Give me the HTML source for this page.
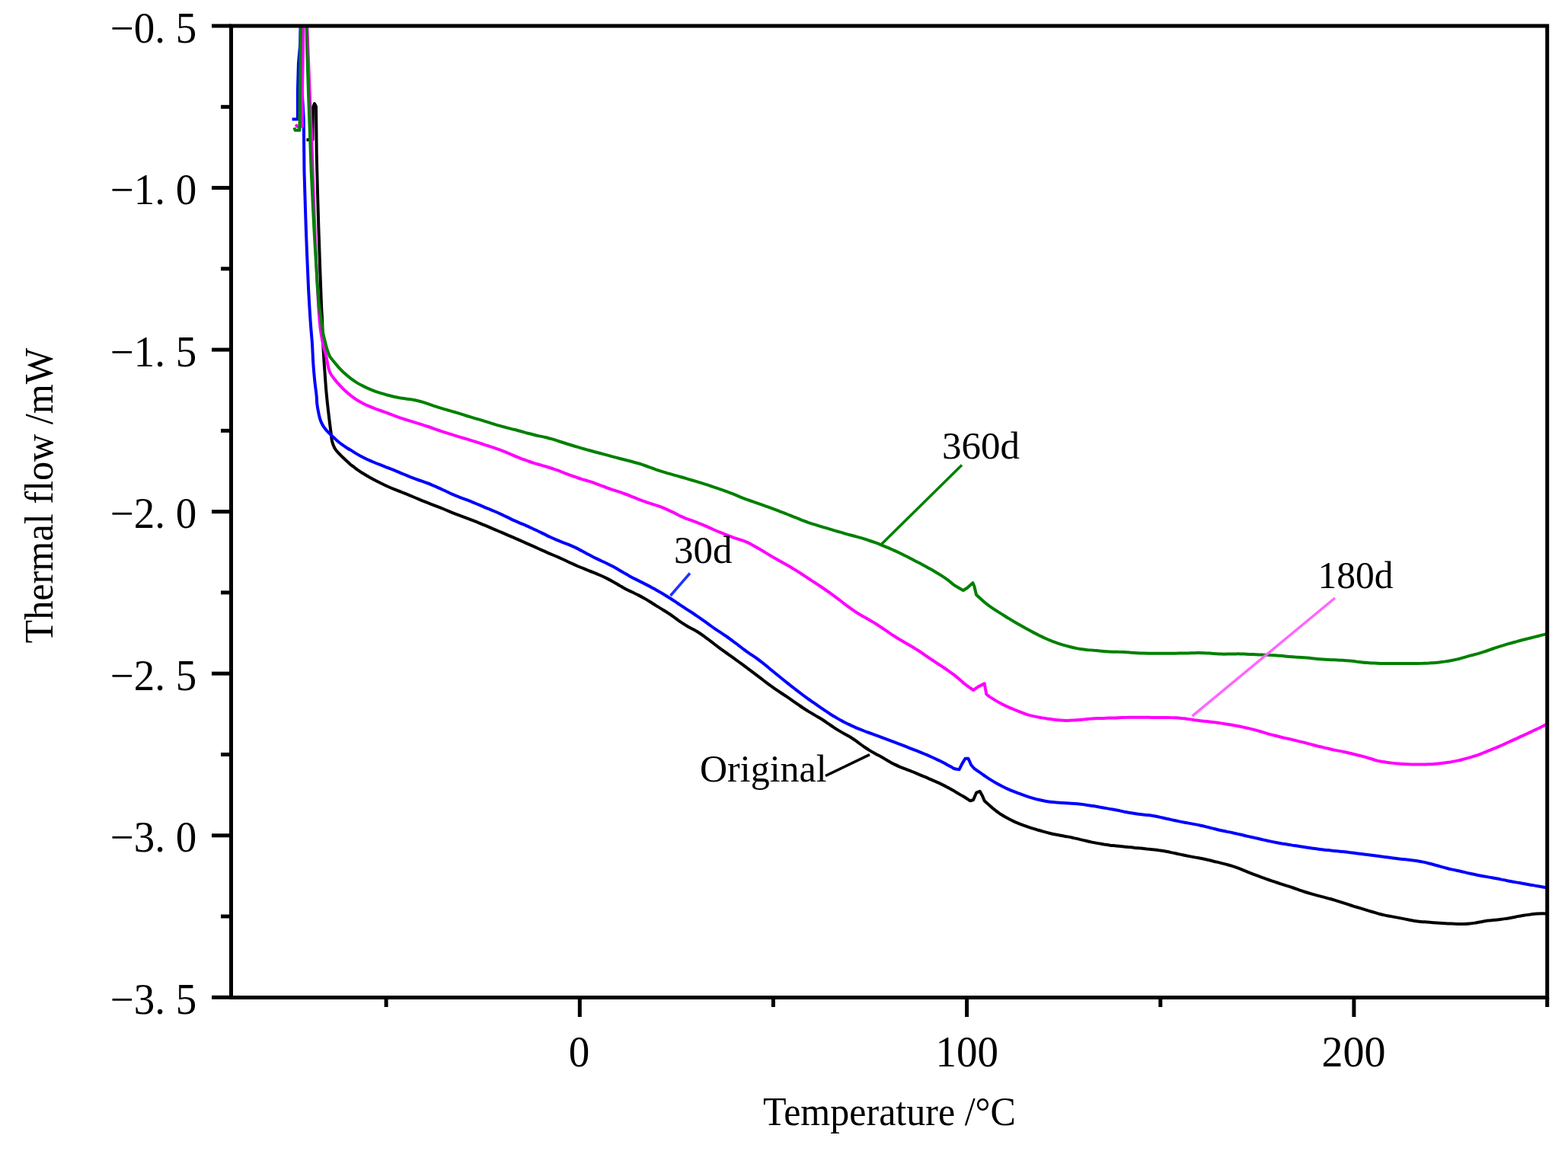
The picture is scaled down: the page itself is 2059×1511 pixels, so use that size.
<!DOCTYPE html>
<html><head><meta charset="utf-8"><title>DSC curves</title>
<style>html,body{margin:0;padding:0;background:#fff;}svg{display:block;}text{font-family:"Liberation Serif","Times New Roman",serif;fill:#000;}</style>
</head><body>
<svg width="2059" height="1511" viewBox="0 0 2059 1511">
<rect width="2059" height="1511" fill="#fff"/>
<defs><clipPath id="pc"><rect x="303.5" y="34.0" width="1728.2" height="1275.5"/></clipPath></defs>
<g clip-path="url(#pc)" fill="none" stroke-width="4" stroke-linejoin="round" stroke-linecap="butt">
<path stroke="#000" d="M402.4,183.5L410.5,183.5L411.0,141.0L413.0,136.0L415.0,140.0L415.7,200.0L416.3,225.0C416.6,237.5 417.7,277.5 418.4,300.0C419.1,322.5 419.9,343.3 420.5,360.0C421.1,376.7 421.6,390.0 422.0,400.0C422.4,410.0 422.8,412.7 423.1,420.0C423.4,427.3 423.6,435.9 423.9,443.8C424.2,451.8 424.6,459.8 425.1,467.7C425.6,475.6 426.1,483.6 426.7,491.5C427.3,499.4 427.9,508.6 428.5,515.0C429.1,521.4 429.5,525.3 430.0,530.0C430.5,534.7 431.0,538.8 431.5,543.2C432.0,547.6 432.6,552.1 433.1,556.5C433.7,560.9 434.3,565.9 434.8,569.7C435.3,573.6 435.3,576.5 436.1,579.6C436.9,582.7 438.0,585.7 439.4,588.2C440.8,590.8 442.7,592.7 444.7,594.9C446.7,597.1 448.5,598.9 451.3,601.5C454.1,604.1 459.5,609.1 461.3,610.7C463.1,612.3 460.6,609.9 462.0,611.0C463.4,612.1 467.3,615.2 470.0,617.1C472.7,619.0 475.3,620.7 478.0,622.3C480.7,624.0 483.3,625.5 486.0,627.0C488.7,628.5 491.3,629.9 494.0,631.3C496.7,632.7 499.3,634.0 502.0,635.3C504.7,636.6 507.3,637.8 510.0,639.0C512.7,640.2 515.3,641.3 518.0,642.4C520.7,643.5 523.3,644.5 526.0,645.5C528.7,646.6 531.3,647.6 534.0,648.7C536.7,649.8 539.3,650.9 542.0,652.0C544.7,653.1 547.3,654.2 550.0,655.4C552.7,656.5 555.3,657.6 558.0,658.7C560.7,659.8 563.3,660.8 566.0,661.8C568.7,662.8 571.3,663.8 574.0,664.8C576.7,665.9 579.3,666.9 582.0,668.0C584.7,669.1 587.3,670.2 590.0,671.4C592.7,672.5 595.3,673.6 598.0,674.7C600.7,675.7 603.3,676.7 606.0,677.7C608.7,678.7 611.3,679.7 614.0,680.7C616.7,681.7 619.3,682.7 622.0,683.7C624.7,684.7 627.3,685.8 630.0,686.9C632.7,688.0 635.3,689.1 638.0,690.2C640.7,691.3 643.3,692.4 646.0,693.6C648.7,694.7 651.3,695.8 654.0,697.0C656.7,698.1 659.3,699.3 662.0,700.4C664.7,701.6 667.3,702.7 670.0,703.8C672.7,705.0 675.3,706.2 678.0,707.3C680.7,708.5 683.3,709.7 686.0,710.8C688.7,712.0 691.3,713.2 694.0,714.4C696.7,715.6 699.3,716.7 702.0,717.9C704.7,719.1 707.3,720.4 710.0,721.6C712.7,722.8 715.3,724.0 718.0,725.1C720.7,726.3 723.3,727.4 726.0,728.5C728.7,729.6 731.3,730.7 734.0,731.9C736.7,733.1 739.3,734.3 742.0,735.5C744.7,736.8 747.3,738.1 750.0,739.3C752.7,740.6 755.3,741.8 758.0,743.0C760.7,744.2 763.3,745.2 766.0,746.2C768.7,747.3 771.3,748.4 774.0,749.5C776.7,750.5 779.3,751.6 782.0,752.7C784.7,753.8 787.3,754.8 790.0,756.0C792.7,757.2 795.3,758.5 798.0,759.9C800.7,761.3 803.3,762.7 806.0,764.2C808.7,765.7 811.3,767.4 814.0,768.9C816.7,770.5 819.3,772.1 822.0,773.5C824.7,774.9 827.3,776.0 830.0,777.3C832.7,778.6 835.3,779.7 838.0,781.1C840.7,782.5 843.3,783.9 846.0,785.4C848.7,787.0 851.3,788.6 854.0,790.3C856.7,792.0 859.3,793.8 862.0,795.4C864.7,797.1 867.3,798.6 870.0,800.2C872.7,801.9 875.3,803.5 878.0,805.3C880.7,807.0 883.3,808.9 886.0,810.8C888.7,812.7 891.3,814.8 894.0,816.6C896.7,818.4 899.3,820.1 902.0,821.7C904.7,823.3 907.3,824.6 910.0,826.1C912.7,827.6 915.3,829.1 918.0,830.8C920.7,832.5 923.3,834.4 926.0,836.3C928.7,838.2 931.3,840.4 934.0,842.4C936.7,844.4 939.3,846.6 942.0,848.5C944.7,850.5 947.3,852.5 950.0,854.4C952.7,856.3 955.3,858.2 958.0,860.1C960.7,862.0 963.3,863.9 966.0,865.8C968.7,867.8 971.3,869.7 974.0,871.7C976.7,873.7 979.3,875.6 982.0,877.6C984.7,879.6 987.3,881.6 990.0,883.6C992.7,885.6 995.3,887.7 998.0,889.7C1000.7,891.7 1003.3,893.8 1006.0,895.8C1008.7,897.8 1011.3,899.7 1014.0,901.6C1016.7,903.5 1019.3,905.4 1022.0,907.2C1024.7,909.0 1027.3,910.8 1030.0,912.5C1032.7,914.3 1035.3,916.0 1038.0,917.8C1040.7,919.6 1043.3,921.6 1046.0,923.5C1048.7,925.3 1051.3,927.2 1054.0,929.0C1056.7,930.8 1059.3,932.5 1062.0,934.1C1064.7,935.8 1067.3,937.3 1070.0,938.9C1072.7,940.5 1075.3,941.9 1078.0,943.5C1080.7,945.2 1083.3,947.0 1086.0,948.8C1088.7,950.6 1091.3,952.6 1094.0,954.3C1096.7,956.1 1099.3,957.8 1102.0,959.4C1104.7,961.0 1107.3,962.5 1110.0,964.0C1112.7,965.5 1115.3,966.8 1118.0,968.5C1120.7,970.1 1123.3,972.2 1126.0,974.1C1128.7,976.0 1131.3,978.0 1134.0,979.9C1136.7,981.7 1139.3,983.5 1142.0,985.1C1144.7,986.8 1147.3,988.2 1150.0,989.7C1152.7,991.2 1155.3,992.5 1158.0,994.0C1160.7,995.5 1163.3,997.2 1166.0,998.7C1168.7,1000.2 1171.3,1001.7 1174.0,1003.1C1176.7,1004.4 1179.3,1005.6 1182.0,1006.8C1184.7,1007.9 1187.3,1008.9 1190.0,1009.9C1192.7,1011.0 1195.3,1011.9 1198.0,1013.0C1200.7,1014.1 1203.3,1015.2 1206.0,1016.3C1208.7,1017.4 1211.3,1018.5 1214.0,1019.7C1216.7,1020.8 1219.3,1022.0 1222.0,1023.2C1224.7,1024.4 1227.3,1025.5 1230.0,1026.7C1232.7,1027.9 1235.3,1029.1 1238.0,1030.4C1240.7,1031.7 1243.3,1033.1 1246.0,1034.5C1248.7,1036.0 1251.3,1037.6 1254.0,1039.1C1256.7,1040.7 1260.0,1042.7 1262.0,1043.9C1264.0,1045.1 1264.2,1045.1 1266.2,1046.3C1268.2,1047.5 1272.8,1050.5 1274.1,1051.3L1278.1,1050.0L1282.1,1040.7L1286.7,1038.8L1290.0,1044.7L1292.7,1051.3C1294.9,1053.2 1302.4,1060.0 1305.9,1062.9C1309.4,1065.8 1311.2,1067.0 1313.9,1068.8C1316.6,1070.5 1319.2,1072.1 1321.9,1073.6C1324.6,1075.1 1327.2,1076.4 1329.9,1077.6C1332.6,1078.9 1335.2,1080.0 1337.9,1081.1C1340.6,1082.2 1343.2,1083.3 1345.9,1084.2C1348.6,1085.2 1351.2,1086.1 1353.9,1086.9C1356.6,1087.8 1359.2,1088.6 1361.9,1089.3C1364.6,1090.1 1367.2,1090.9 1369.9,1091.6C1372.6,1092.3 1375.2,1093.1 1377.9,1093.7C1380.6,1094.4 1383.2,1095.0 1385.9,1095.5C1388.6,1096.0 1391.2,1096.5 1393.9,1097.0C1396.6,1097.5 1399.2,1097.9 1401.9,1098.4C1404.6,1098.9 1407.2,1099.5 1409.9,1100.1C1412.6,1100.6 1415.2,1101.2 1417.9,1101.9C1420.6,1102.5 1423.2,1103.2 1425.9,1103.8C1428.6,1104.4 1431.2,1105.0 1433.9,1105.6C1436.6,1106.1 1439.2,1106.6 1441.9,1107.1C1444.6,1107.6 1447.2,1108.0 1449.9,1108.5C1452.6,1108.9 1455.2,1109.3 1457.9,1109.7C1460.6,1110.0 1463.2,1110.2 1465.9,1110.5C1468.6,1110.8 1471.2,1111.0 1473.9,1111.2C1476.6,1111.5 1479.2,1111.8 1481.9,1112.1C1484.6,1112.3 1487.2,1112.6 1489.9,1112.9C1492.6,1113.1 1495.2,1113.4 1497.9,1113.6C1500.6,1113.9 1503.2,1114.2 1505.9,1114.5C1508.6,1114.7 1511.2,1115.0 1513.9,1115.3C1516.6,1115.6 1519.2,1115.9 1521.9,1116.3C1524.6,1116.6 1527.2,1117.1 1529.9,1117.5C1532.6,1118.0 1535.2,1118.5 1537.9,1119.1C1540.6,1119.6 1543.2,1120.2 1545.9,1120.8C1548.6,1121.4 1551.2,1122.0 1553.9,1122.5C1556.6,1123.1 1559.2,1123.6 1561.9,1124.1C1564.6,1124.6 1567.2,1125.1 1569.9,1125.6C1572.6,1126.1 1575.2,1126.5 1577.9,1127.0C1580.6,1127.6 1583.2,1128.1 1585.9,1128.8C1588.6,1129.4 1591.2,1130.0 1593.9,1130.7C1596.6,1131.3 1599.2,1132.0 1601.9,1132.6C1604.6,1133.3 1607.2,1133.9 1609.9,1134.6C1612.6,1135.4 1615.2,1136.1 1617.9,1136.9C1620.6,1137.7 1623.2,1138.6 1625.9,1139.6C1628.6,1140.6 1631.2,1141.8 1633.9,1142.9C1636.6,1144.0 1639.2,1145.1 1641.9,1146.1C1644.6,1147.2 1647.2,1148.2 1649.9,1149.2C1652.6,1150.2 1655.2,1151.2 1657.9,1152.2C1660.6,1153.1 1663.2,1154.1 1665.9,1155.0C1668.6,1155.9 1671.2,1156.8 1673.9,1157.7C1676.6,1158.6 1679.2,1159.4 1681.9,1160.3C1684.6,1161.2 1687.2,1162.0 1689.9,1162.9C1692.6,1163.7 1695.2,1164.6 1697.9,1165.5C1700.6,1166.4 1703.2,1167.4 1705.9,1168.3C1708.6,1169.2 1711.2,1170.1 1713.9,1171.0C1716.6,1171.9 1719.2,1172.7 1721.9,1173.4C1724.6,1174.2 1727.2,1174.9 1729.9,1175.6C1732.6,1176.3 1735.2,1176.9 1737.9,1177.6C1740.6,1178.3 1743.2,1179.0 1745.9,1179.8C1748.6,1180.5 1751.2,1181.3 1753.9,1182.1C1756.6,1182.9 1759.2,1183.8 1761.9,1184.6C1764.6,1185.5 1767.2,1186.3 1769.9,1187.2C1772.6,1188.1 1775.2,1188.9 1777.9,1189.8C1780.6,1190.6 1783.2,1191.4 1785.9,1192.2C1788.6,1193.0 1791.2,1193.8 1793.9,1194.6C1796.6,1195.4 1799.2,1196.2 1801.9,1197.0C1804.6,1197.8 1807.2,1198.6 1809.9,1199.4C1812.6,1200.1 1815.2,1200.8 1817.9,1201.4C1820.6,1202.0 1823.2,1202.4 1825.9,1202.9C1828.6,1203.4 1831.2,1203.9 1833.9,1204.4C1836.6,1204.9 1839.2,1205.4 1841.9,1205.9C1844.6,1206.5 1847.2,1207.0 1849.9,1207.5C1852.6,1208.0 1855.2,1208.5 1857.9,1208.9C1860.6,1209.3 1863.2,1209.6 1865.9,1209.9C1868.6,1210.2 1871.2,1210.3 1873.9,1210.5C1876.6,1210.8 1879.2,1211.0 1881.9,1211.2C1884.6,1211.4 1887.2,1211.6 1889.9,1211.7C1892.6,1211.9 1895.2,1212.1 1897.9,1212.2C1900.6,1212.4 1903.2,1212.5 1905.9,1212.6C1908.6,1212.7 1911.2,1212.8 1913.9,1212.9C1916.6,1213.0 1919.2,1213.2 1921.9,1213.1C1924.6,1213.1 1927.2,1212.9 1929.9,1212.6C1932.6,1212.3 1935.2,1211.9 1937.9,1211.5C1940.6,1211.1 1943.2,1210.5 1945.9,1210.0C1948.6,1209.5 1951.2,1209.0 1953.9,1208.6C1956.6,1208.3 1959.2,1208.1 1961.9,1207.8C1964.6,1207.5 1967.2,1207.3 1969.9,1207.0C1972.6,1206.7 1975.2,1206.4 1977.9,1205.9C1980.6,1205.5 1983.2,1205.0 1985.9,1204.5C1988.6,1204.0 1991.2,1203.4 1993.9,1202.9C1996.6,1202.4 1999.2,1201.9 2001.9,1201.5C2004.6,1201.1 2007.2,1200.7 2009.9,1200.4C2012.6,1200.1 2015.2,1199.8 2017.9,1199.6C2020.6,1199.4 2023.2,1199.3 2025.9,1199.3C2028.6,1199.3 2032.6,1199.5 2033.9,1199.5C2035.2,1199.5 2034.0,1199.5 2034.0,1199.5"/>
<path stroke="#0000ff" d="M383.6,156.4L390.9,156.4L390.9,120.0L391.9,84.0L394.0,60.0L394.8,28.0L396.9,28.0L397.0,125.0L398.8,157.0L399.5,225.0C399.9,237.5 400.9,274.2 401.8,300.0C402.7,325.8 404.2,360.0 405.1,380.0C406.1,400.0 406.7,408.0 407.5,420.0C408.3,432.0 409.4,442.5 410.0,451.8C410.6,461.1 410.7,467.7 411.2,475.6C411.7,483.5 412.5,492.1 413.2,499.4C413.9,506.7 415.1,514.2 415.6,519.3C416.1,524.4 415.9,526.6 416.3,530.0C416.7,533.4 417.2,536.6 417.9,539.9C418.5,543.2 419.3,546.9 420.2,549.9C421.1,552.9 422.2,555.4 423.5,557.8C424.8,560.2 426.3,562.2 428.2,564.4C430.1,566.6 432.1,568.4 434.8,571.0C437.6,573.6 440.9,577.2 444.7,580.3C448.5,583.4 455.7,588.1 457.9,589.6C460.1,591.1 456.6,588.4 458.0,589.2C459.4,590.0 463.3,592.8 466.0,594.4C468.7,596.1 471.3,597.6 474.0,599.0C476.7,600.4 479.3,601.7 482.0,603.0C484.7,604.2 487.3,605.4 490.0,606.5C492.7,607.6 495.3,608.7 498.0,609.7C500.7,610.8 503.3,611.8 506.0,612.8C508.7,613.8 511.3,614.8 514.0,615.9C516.7,616.9 519.3,618.0 522.0,619.1C524.7,620.2 527.3,621.4 530.0,622.5C532.7,623.6 535.3,624.7 538.0,625.8C540.7,626.8 543.3,627.8 546.0,628.8C548.7,629.8 551.3,630.7 554.0,631.6C556.7,632.6 559.3,633.5 562.0,634.5C564.7,635.5 567.3,636.7 570.0,637.8C572.7,639.0 575.3,640.2 578.0,641.4C580.7,642.6 583.3,643.8 586.0,645.0C588.7,646.3 591.3,647.6 594.0,648.8C596.7,650.0 599.3,651.1 602.0,652.1C604.7,653.2 607.3,654.1 610.0,655.1C612.7,656.1 615.3,657.1 618.0,658.2C620.7,659.3 623.3,660.4 626.0,661.5C628.7,662.6 631.3,663.7 634.0,664.8C636.7,666.0 639.3,667.1 642.0,668.2C644.7,669.3 647.3,670.4 650.0,671.5C652.7,672.7 655.3,673.9 658.0,675.1C660.7,676.3 663.3,677.7 666.0,678.9C668.7,680.2 671.3,681.6 674.0,682.8C676.7,684.0 679.3,685.2 682.0,686.3C684.7,687.5 687.3,688.5 690.0,689.6C692.7,690.8 695.3,692.0 698.0,693.2C700.7,694.4 703.3,695.7 706.0,697.0C708.7,698.2 711.3,699.6 714.0,700.9C716.7,702.2 719.3,703.6 722.0,704.8C724.7,706.1 727.3,707.3 730.0,708.4C732.7,709.6 735.3,710.6 738.0,711.6C740.7,712.7 743.3,713.6 746.0,714.7C748.7,715.8 751.3,716.9 754.0,718.1C756.7,719.3 759.3,720.7 762.0,722.1C764.7,723.5 767.3,725.1 770.0,726.5C772.7,727.9 775.3,729.4 778.0,730.7C780.7,732.1 783.3,733.3 786.0,734.6C788.7,735.9 791.3,737.0 794.0,738.3C796.7,739.6 799.3,740.9 802.0,742.3C804.7,743.6 807.3,745.0 810.0,746.5C812.7,748.0 815.3,749.7 818.0,751.3C820.7,752.8 823.3,754.4 826.0,755.9C828.7,757.4 831.3,758.8 834.0,760.1C836.7,761.5 839.3,762.8 842.0,764.1C844.7,765.5 847.3,766.7 850.0,768.1C852.7,769.5 855.3,770.9 858.0,772.4C860.7,773.8 863.3,775.4 866.0,776.9C868.7,778.5 871.3,780.1 874.0,781.7C876.7,783.3 879.3,785.0 882.0,786.7C884.7,788.4 887.3,790.2 890.0,792.0C892.7,793.8 895.3,795.6 898.0,797.3C900.7,799.1 903.3,800.8 906.0,802.5C908.7,804.2 911.3,806.0 914.0,807.8C916.7,809.6 919.3,811.4 922.0,813.3C924.7,815.2 927.3,817.2 930.0,819.1C932.7,821.0 935.3,823.0 938.0,824.9C940.7,826.7 943.3,828.4 946.0,830.2C948.7,832.0 951.3,833.7 954.0,835.5C956.7,837.4 959.3,839.3 962.0,841.3C964.7,843.2 967.3,845.4 970.0,847.4C972.7,849.5 975.3,851.6 978.0,853.5C980.7,855.4 983.3,857.2 986.0,859.1C988.7,860.9 991.3,862.6 994.0,864.5C996.7,866.4 999.3,868.5 1002.0,870.6C1004.7,872.7 1007.3,875.0 1010.0,877.2C1012.7,879.4 1015.3,881.6 1018.0,883.8C1020.7,886.0 1023.3,888.1 1026.0,890.3C1028.7,892.4 1031.3,894.5 1034.0,896.6C1036.7,898.8 1039.3,900.9 1042.0,903.0C1044.7,905.1 1047.3,907.2 1050.0,909.2C1052.7,911.2 1055.3,913.2 1058.0,915.1C1060.7,917.1 1063.3,918.9 1066.0,920.8C1068.7,922.7 1071.3,924.6 1074.0,926.4C1076.7,928.3 1079.3,930.1 1082.0,931.9C1084.7,933.7 1087.3,935.5 1090.0,937.2C1092.7,938.9 1095.3,940.6 1098.0,942.1C1100.7,943.7 1103.3,945.2 1106.0,946.6C1108.7,948.0 1111.3,949.4 1114.0,950.7C1116.7,951.9 1119.3,953.2 1122.0,954.3C1124.7,955.5 1127.3,956.6 1130.0,957.7C1132.7,958.7 1135.3,959.8 1138.0,960.8C1140.7,961.8 1143.3,962.7 1146.0,963.7C1148.7,964.7 1151.3,965.7 1154.0,966.6C1156.7,967.6 1159.3,968.6 1162.0,969.6C1164.7,970.6 1167.3,971.6 1170.0,972.6C1172.7,973.6 1175.3,974.6 1178.0,975.7C1180.7,976.7 1183.3,977.7 1186.0,978.7C1188.7,979.8 1191.3,980.8 1194.0,981.8C1196.7,982.8 1199.3,983.9 1202.0,984.9C1204.7,985.9 1207.3,987.0 1210.0,988.1C1212.7,989.2 1215.3,990.3 1218.0,991.4C1220.7,992.6 1223.3,993.8 1226.0,995.0C1228.7,996.2 1231.3,997.5 1234.0,998.8C1236.7,1000.1 1239.3,1001.5 1242.0,1002.9C1244.7,1004.4 1248.2,1006.3 1250.0,1007.3C1251.8,1008.3 1251.3,1008.5 1252.9,1009.0C1254.5,1009.5 1258.4,1010.1 1259.5,1010.3L1263.5,1002.4L1267.5,995.7L1271.5,995.7L1275.4,1004.5L1279.4,1009.0C1281.4,1010.4 1288.2,1015.2 1291.6,1017.5C1295.0,1019.8 1296.9,1021.2 1299.6,1022.9C1302.3,1024.6 1304.9,1026.2 1307.6,1027.7C1310.3,1029.2 1312.9,1030.6 1315.6,1032.0C1318.3,1033.3 1320.9,1034.6 1323.6,1035.8C1326.3,1037.0 1328.9,1038.1 1331.6,1039.2C1334.3,1040.3 1336.9,1041.3 1339.6,1042.2C1342.3,1043.2 1344.9,1044.2 1347.6,1045.1C1350.3,1046.0 1352.9,1046.8 1355.6,1047.6C1358.3,1048.4 1360.9,1049.2 1363.6,1049.8C1366.3,1050.5 1368.9,1051.0 1371.6,1051.5C1374.3,1052.0 1376.9,1052.4 1379.6,1052.7C1382.3,1053.0 1384.9,1053.2 1387.6,1053.4C1390.3,1053.6 1392.9,1053.7 1395.6,1053.9C1398.3,1054.1 1400.9,1054.3 1403.6,1054.5C1406.3,1054.7 1408.9,1054.9 1411.6,1055.1C1414.3,1055.4 1416.9,1055.6 1419.6,1055.8C1422.3,1056.1 1424.9,1056.5 1427.6,1056.9C1430.3,1057.2 1432.9,1057.7 1435.6,1058.1C1438.3,1058.5 1440.9,1059.0 1443.6,1059.5C1446.3,1059.9 1448.9,1060.4 1451.6,1060.9C1454.3,1061.4 1456.9,1061.8 1459.6,1062.3C1462.3,1062.8 1464.9,1063.3 1467.6,1063.8C1470.3,1064.4 1472.9,1064.9 1475.6,1065.5C1478.3,1066.0 1480.9,1066.5 1483.6,1067.0C1486.3,1067.5 1488.9,1067.9 1491.6,1068.3C1494.3,1068.7 1496.9,1069.0 1499.6,1069.3C1502.3,1069.6 1504.9,1069.7 1507.6,1070.0C1510.3,1070.3 1512.9,1070.8 1515.6,1071.2C1518.3,1071.7 1520.9,1072.4 1523.6,1072.9C1526.3,1073.5 1528.9,1074.1 1531.6,1074.7C1534.3,1075.2 1536.9,1075.8 1539.6,1076.4C1542.3,1077.0 1544.9,1077.6 1547.6,1078.1C1550.3,1078.7 1552.9,1079.2 1555.6,1079.7C1558.3,1080.2 1560.9,1080.6 1563.6,1081.1C1566.3,1081.6 1568.9,1082.1 1571.6,1082.6C1574.3,1083.2 1576.9,1083.7 1579.6,1084.3C1582.3,1085.0 1584.9,1085.7 1587.6,1086.3C1590.3,1087.0 1592.9,1087.7 1595.6,1088.3C1598.3,1089.0 1600.9,1089.6 1603.6,1090.2C1606.3,1090.8 1608.9,1091.3 1611.6,1091.9C1614.3,1092.4 1616.9,1092.9 1619.6,1093.5C1622.3,1094.0 1624.9,1094.7 1627.6,1095.3C1630.3,1095.9 1632.9,1096.5 1635.6,1097.2C1638.3,1097.8 1640.9,1098.4 1643.6,1099.0C1646.3,1099.6 1648.9,1100.2 1651.6,1100.8C1654.3,1101.4 1656.9,1102.0 1659.6,1102.6C1662.3,1103.2 1664.9,1103.9 1667.6,1104.4C1670.3,1105.0 1672.9,1105.5 1675.6,1106.0C1678.3,1106.5 1680.9,1107.0 1683.6,1107.5C1686.3,1107.9 1688.9,1108.3 1691.6,1108.7C1694.3,1109.1 1696.9,1109.6 1699.6,1110.0C1702.3,1110.4 1704.9,1110.8 1707.6,1111.2C1710.3,1111.7 1712.9,1112.1 1715.6,1112.5C1718.3,1112.9 1720.9,1113.3 1723.6,1113.7C1726.3,1114.1 1728.9,1114.5 1731.6,1114.8C1734.3,1115.1 1736.9,1115.4 1739.6,1115.7C1742.3,1116.0 1744.9,1116.2 1747.6,1116.5C1750.3,1116.8 1752.9,1117.0 1755.6,1117.3C1758.3,1117.6 1760.9,1117.8 1763.6,1118.1C1766.3,1118.4 1768.9,1118.7 1771.6,1119.1C1774.3,1119.4 1776.9,1119.8 1779.6,1120.1C1782.3,1120.5 1784.9,1120.8 1787.6,1121.1C1790.3,1121.5 1792.9,1121.8 1795.6,1122.1C1798.3,1122.5 1800.9,1122.8 1803.6,1123.1C1806.3,1123.5 1808.9,1123.8 1811.6,1124.1C1814.3,1124.5 1816.9,1124.9 1819.6,1125.2C1822.3,1125.6 1824.9,1126.0 1827.6,1126.3C1830.3,1126.6 1832.9,1127.0 1835.6,1127.3C1838.3,1127.6 1840.9,1127.8 1843.6,1128.1C1846.3,1128.4 1848.9,1128.6 1851.6,1128.9C1854.3,1129.3 1856.9,1129.6 1859.6,1130.0C1862.3,1130.4 1864.9,1130.9 1867.6,1131.4C1870.3,1131.9 1872.9,1132.5 1875.6,1133.2C1878.3,1133.8 1880.9,1134.6 1883.6,1135.3C1886.3,1136.1 1888.9,1136.9 1891.6,1137.6C1894.3,1138.3 1896.9,1139.1 1899.6,1139.7C1902.3,1140.4 1904.9,1141.0 1907.6,1141.6C1910.3,1142.2 1912.9,1142.7 1915.6,1143.3C1918.3,1143.9 1920.9,1144.5 1923.6,1145.1C1926.3,1145.8 1928.9,1146.4 1931.6,1147.0C1934.3,1147.6 1936.9,1148.2 1939.6,1148.7C1942.3,1149.2 1944.9,1149.7 1947.6,1150.2C1950.3,1150.7 1952.9,1151.1 1955.6,1151.6C1958.3,1152.1 1960.9,1152.5 1963.6,1153.0C1966.3,1153.5 1968.9,1154.0 1971.6,1154.6C1974.3,1155.1 1976.9,1155.6 1979.6,1156.2C1982.3,1156.7 1984.9,1157.2 1987.6,1157.7C1990.3,1158.2 1992.9,1158.7 1995.6,1159.1C1998.3,1159.6 2000.9,1160.1 2003.6,1160.5C2006.3,1161.0 2008.9,1161.5 2011.6,1161.9C2014.3,1162.4 2016.9,1162.8 2019.6,1163.3C2022.3,1163.8 2025.2,1164.3 2027.6,1164.7C2030.0,1165.1 2032.9,1165.6 2034.0,1165.8"/>
<path stroke="#ff00ff" d="M388.2,163.5L390.9,166.5L396.8,166.0L396.8,130.0L398.5,28.0L403.0,28.0L407.0,130.0L409.2,180.0L410.7,225.0C411.1,237.5 412.3,274.2 413.4,300.0C414.4,325.8 416.0,360.0 417.0,380.0C418.0,400.0 418.7,410.0 419.5,420.0C420.3,430.0 421.0,433.9 421.9,439.9C422.8,445.8 424.0,451.1 425.1,455.7C426.2,460.3 427.2,463.1 428.3,467.7C429.4,472.3 430.3,479.5 431.4,483.5C432.4,487.5 432.9,488.6 434.6,491.5C436.3,494.4 440.1,498.8 441.8,501.0C443.5,503.2 443.1,502.6 445.0,504.5C446.9,506.5 450.3,510.3 453.0,512.8C455.7,515.3 458.3,517.6 461.0,519.6C463.7,521.7 466.3,523.5 469.0,525.2C471.7,526.9 474.3,528.3 477.0,529.7C479.7,531.1 482.3,532.3 485.0,533.4C487.7,534.6 490.3,535.5 493.0,536.6C495.7,537.6 498.3,538.5 501.0,539.5C503.7,540.5 506.3,541.4 509.0,542.4C511.7,543.4 514.3,544.4 517.0,545.4C519.7,546.4 522.3,547.4 525.0,548.3C527.7,549.2 530.3,550.1 533.0,551.0C535.7,551.8 538.3,552.6 541.0,553.4C543.7,554.2 546.3,555.0 549.0,555.8C551.7,556.6 554.3,557.4 557.0,558.3C559.7,559.1 562.3,560.1 565.0,561.0C567.7,561.9 570.3,562.9 573.0,563.9C575.7,564.8 578.3,565.7 581.0,566.6C583.7,567.5 586.3,568.3 589.0,569.2C591.7,570.0 594.3,570.9 597.0,571.7C599.7,572.5 602.3,573.3 605.0,574.1C607.7,574.9 610.3,575.6 613.0,576.4C615.7,577.2 618.3,578.1 621.0,578.9C623.7,579.7 626.3,580.6 629.0,581.4C631.7,582.3 634.3,583.2 637.0,584.1C639.7,584.9 642.3,585.8 645.0,586.7C647.7,587.5 650.3,588.4 653.0,589.4C655.7,590.3 658.3,591.3 661.0,592.4C663.7,593.4 666.3,594.6 669.0,595.7C671.7,596.8 674.3,598.0 677.0,599.1C679.7,600.2 682.3,601.2 685.0,602.3C687.7,603.3 690.3,604.3 693.0,605.2C695.7,606.1 698.3,607.0 701.0,607.8C703.7,608.7 706.3,609.4 709.0,610.2C711.7,611.0 714.3,611.7 717.0,612.5C719.7,613.3 722.3,614.2 725.0,615.0C727.7,615.9 730.3,616.8 733.0,617.7C735.7,618.7 738.3,619.8 741.0,620.8C743.7,621.8 746.3,622.9 749.0,623.9C751.7,624.9 754.3,625.8 757.0,626.7C759.7,627.6 762.3,628.5 765.0,629.3C767.7,630.1 770.3,630.8 773.0,631.7C775.7,632.5 778.3,633.4 781.0,634.3C783.7,635.3 786.3,636.3 789.0,637.3C791.7,638.3 794.3,639.4 797.0,640.3C799.7,641.3 802.3,642.2 805.0,643.1C807.7,644.0 810.3,644.8 813.0,645.7C815.7,646.6 818.3,647.5 821.0,648.5C823.7,649.5 826.3,650.5 829.0,651.6C831.7,652.6 834.3,653.8 837.0,654.8C839.7,655.9 842.3,656.9 845.0,657.9C847.7,658.8 850.3,659.8 853.0,660.7C855.7,661.6 858.3,662.3 861.0,663.2C863.7,664.0 866.3,664.9 869.0,665.9C871.7,667.0 874.3,668.1 877.0,669.3C879.7,670.5 882.3,671.8 885.0,673.1C887.7,674.4 890.3,676.0 893.0,677.3C895.7,678.5 898.3,679.7 901.0,680.8C903.7,681.8 906.3,682.6 909.0,683.6C911.7,684.6 914.3,685.5 917.0,686.6C919.7,687.6 922.3,688.7 925.0,689.9C927.7,691.0 930.3,692.2 933.0,693.4C935.7,694.6 938.3,695.8 941.0,697.0C943.7,698.1 946.3,699.1 949.0,700.2C951.7,701.3 954.3,702.3 957.0,703.4C959.7,704.4 962.3,705.4 965.0,706.4C967.7,707.3 970.3,708.0 973.0,708.9C975.7,709.8 978.3,710.7 981.0,711.9C983.7,713.1 986.3,714.5 989.0,715.9C991.7,717.4 994.3,719.0 997.0,720.6C999.7,722.1 1002.3,723.8 1005.0,725.4C1007.7,727.1 1010.3,728.7 1013.0,730.3C1015.7,731.8 1018.3,733.3 1021.0,734.8C1023.7,736.3 1026.3,737.8 1029.0,739.3C1031.7,740.8 1034.3,742.3 1037.0,743.8C1039.7,745.4 1042.3,747.0 1045.0,748.6C1047.7,750.3 1050.3,752.0 1053.0,753.7C1055.7,755.5 1058.3,757.2 1061.0,759.0C1063.7,760.8 1066.3,762.5 1069.0,764.3C1071.7,766.0 1074.3,767.8 1077.0,769.5C1079.7,771.3 1082.3,773.1 1085.0,775.0C1087.7,776.8 1090.3,778.7 1093.0,780.7C1095.7,782.6 1098.3,784.6 1101.0,786.6C1103.7,788.7 1106.3,790.8 1109.0,792.8C1111.7,794.8 1114.3,796.8 1117.0,798.7C1119.7,800.6 1122.3,802.5 1125.0,804.2C1127.7,805.9 1130.3,807.4 1133.0,809.0C1135.7,810.5 1138.3,811.9 1141.0,813.5C1143.7,815.0 1146.3,816.6 1149.0,818.2C1151.7,819.9 1154.3,821.7 1157.0,823.5C1159.7,825.3 1162.3,827.1 1165.0,828.9C1167.7,830.7 1170.3,832.5 1173.0,834.3C1175.7,836.0 1178.3,837.7 1181.0,839.3C1183.7,840.9 1186.3,842.4 1189.0,843.9C1191.7,845.4 1194.3,846.9 1197.0,848.5C1199.7,850.1 1202.3,851.8 1205.0,853.5C1207.7,855.2 1210.3,857.0 1213.0,858.8C1215.7,860.6 1218.3,862.5 1221.0,864.3C1223.7,866.1 1226.3,867.9 1229.0,869.7C1231.7,871.4 1234.3,873.1 1237.0,874.9C1239.7,876.7 1242.3,878.4 1245.0,880.3C1247.7,882.2 1250.3,884.1 1253.0,886.2C1255.7,888.3 1258.8,890.9 1261.0,892.8C1263.2,894.6 1263.4,895.2 1266.2,897.4C1269.0,899.6 1276.1,904.6 1278.1,906.0L1284.7,901.4L1292.7,897.4L1295.3,911.3L1299.3,914.6C1301.5,915.9 1309.0,920.6 1312.5,922.6C1316.0,924.6 1317.8,925.4 1320.5,926.6C1323.2,927.9 1325.8,928.9 1328.5,930.1C1331.2,931.2 1333.8,932.3 1336.5,933.4C1339.2,934.5 1341.8,935.6 1344.5,936.5C1347.2,937.4 1349.8,938.3 1352.5,939.1C1355.2,939.8 1357.8,940.4 1360.5,940.9C1363.2,941.5 1365.8,941.9 1368.5,942.4C1371.2,942.9 1373.8,943.3 1376.5,943.7C1379.2,944.1 1381.8,944.5 1384.5,944.8C1387.2,945.2 1389.8,945.5 1392.5,945.6C1395.2,945.8 1397.8,945.9 1400.5,945.9C1403.2,945.9 1405.8,945.8 1408.5,945.6C1411.2,945.5 1413.8,945.2 1416.5,945.0C1419.2,944.8 1421.8,944.5 1424.5,944.3C1427.2,944.0 1429.8,943.7 1432.5,943.6C1435.2,943.4 1437.8,943.2 1440.5,943.1C1443.2,943.0 1445.8,943.0 1448.5,942.9C1451.2,942.8 1453.8,942.7 1456.5,942.6C1459.2,942.5 1461.8,942.5 1464.5,942.4C1467.2,942.3 1469.8,942.1 1472.5,942.0C1475.2,941.9 1477.8,941.8 1480.5,941.8C1483.2,941.7 1485.8,941.7 1488.5,941.7C1491.2,941.6 1493.8,941.6 1496.5,941.7C1499.2,941.7 1501.8,941.7 1504.5,941.8C1507.2,941.8 1509.8,941.9 1512.5,941.9C1515.2,941.9 1517.8,942.0 1520.5,942.0C1523.2,942.1 1525.8,942.1 1528.5,942.1C1531.2,942.1 1533.8,941.9 1536.5,942.0C1539.2,942.0 1541.8,942.1 1544.5,942.3C1547.2,942.5 1549.8,942.8 1552.5,943.1C1555.2,943.3 1557.8,943.7 1560.5,944.1C1563.2,944.4 1565.8,944.8 1568.5,945.2C1571.2,945.5 1573.8,945.8 1576.5,946.2C1579.2,946.5 1581.8,946.8 1584.5,947.1C1587.2,947.4 1589.8,947.7 1592.5,948.0C1595.2,948.3 1597.8,948.6 1600.5,949.0C1603.2,949.4 1605.8,949.7 1608.5,950.2C1611.2,950.6 1613.8,951.0 1616.5,951.5C1619.2,952.0 1621.8,952.5 1624.5,953.0C1627.2,953.5 1629.8,954.1 1632.5,954.6C1635.2,955.2 1637.8,955.8 1640.5,956.4C1643.2,957.1 1645.8,957.7 1648.5,958.4C1651.2,959.1 1653.8,959.9 1656.5,960.7C1659.2,961.5 1661.8,962.3 1664.5,963.1C1667.2,963.9 1669.8,964.5 1672.5,965.2C1675.2,965.9 1677.8,966.6 1680.5,967.2C1683.2,967.9 1685.8,968.5 1688.5,969.1C1691.2,969.7 1693.8,970.3 1696.5,970.9C1699.2,971.6 1701.8,972.2 1704.5,972.9C1707.2,973.5 1709.8,974.2 1712.5,974.8C1715.2,975.5 1717.8,976.2 1720.5,976.9C1723.2,977.6 1725.8,978.3 1728.5,979.0C1731.2,979.6 1733.8,980.3 1736.5,980.9C1739.2,981.6 1741.8,982.2 1744.5,982.8C1747.2,983.4 1749.8,984.1 1752.5,984.6C1755.2,985.2 1757.8,985.6 1760.5,986.1C1763.2,986.7 1765.8,987.2 1768.5,987.8C1771.2,988.4 1773.8,989.1 1776.5,989.7C1779.2,990.4 1781.8,991.0 1784.5,991.7C1787.2,992.4 1788.5,992.6 1792.5,993.7C1796.5,994.9 1804.5,997.5 1808.5,998.6C1812.5,999.6 1813.8,999.6 1816.5,1000.1C1819.2,1000.5 1821.8,1000.9 1824.5,1001.3C1827.2,1001.6 1829.8,1002.0 1832.5,1002.2C1835.2,1002.4 1837.8,1002.5 1840.5,1002.7C1843.2,1002.8 1845.8,1003.0 1848.5,1003.2C1851.2,1003.3 1853.8,1003.4 1856.5,1003.4C1859.2,1003.5 1861.8,1003.5 1864.5,1003.5C1867.2,1003.5 1869.8,1003.5 1872.5,1003.4C1875.2,1003.3 1877.8,1003.3 1880.5,1003.2C1883.2,1003.0 1885.8,1002.8 1888.5,1002.5C1891.2,1002.3 1893.8,1002.0 1896.5,1001.6C1899.2,1001.3 1901.8,1000.8 1904.5,1000.4C1907.2,999.9 1909.8,999.4 1912.5,998.9C1915.2,998.3 1917.8,997.7 1920.5,997.0C1923.2,996.4 1925.8,995.6 1928.5,994.9C1931.2,994.1 1933.8,993.3 1936.5,992.4C1939.2,991.6 1941.8,990.6 1944.5,989.6C1947.2,988.6 1949.8,987.4 1952.5,986.4C1955.2,985.3 1957.8,984.3 1960.5,983.2C1963.2,982.1 1965.8,981.0 1968.5,979.9C1971.2,978.8 1973.8,977.6 1976.5,976.4C1979.2,975.2 1981.8,973.9 1984.5,972.7C1987.2,971.5 1989.8,970.3 1992.5,969.1C1995.2,967.8 1997.8,966.6 2000.5,965.4C2003.2,964.1 2005.8,962.9 2008.5,961.6C2011.2,960.4 2013.8,959.1 2016.5,957.8C2019.2,956.6 2021.8,955.3 2024.5,954.0C2027.2,952.7 2030.9,950.9 2032.5,950.1C2034.1,949.4 2033.8,949.5 2034.0,949.4"/>
<path stroke="#008000" d="M386.5,167.5L387.5,171.0L393.5,171.0L393.5,150.0L394.5,60.0L395.0,28.0L402.5,28.0L403.0,60.0L405.1,125.0L408.7,225.0C409.3,237.5 411.1,275.8 412.4,300.0C413.7,324.2 415.4,353.3 416.5,370.0C417.6,386.7 418.1,391.7 419.0,400.0C419.9,408.3 421.1,414.0 421.9,420.0C422.7,426.0 423.1,431.3 423.9,435.9C424.7,440.5 425.7,443.8 426.7,447.8C427.7,451.8 428.8,456.4 429.9,459.7C430.9,463.0 431.7,465.3 433.0,467.7C434.3,470.1 435.8,471.5 437.8,474.0C439.8,476.5 442.5,479.8 445.0,482.6C447.5,485.3 450.3,488.2 453.0,490.6C455.7,493.1 458.3,495.2 461.0,497.2C463.7,499.2 466.3,500.9 469.0,502.6C471.7,504.2 474.3,505.6 477.0,506.9C479.7,508.3 482.3,509.5 485.0,510.6C487.7,511.8 490.3,512.8 493.0,513.8C495.7,514.7 498.3,515.6 501.0,516.4C503.7,517.3 506.3,518.0 509.0,518.7C511.7,519.4 514.3,520.1 517.0,520.7C519.7,521.3 522.3,521.9 525.0,522.4C527.7,522.8 530.3,523.2 533.0,523.5C535.7,523.9 538.3,524.0 541.0,524.5C543.7,524.9 546.3,525.5 549.0,526.2C551.7,526.8 554.3,527.6 557.0,528.4C559.7,529.3 562.3,530.2 565.0,531.2C567.7,532.1 570.3,533.0 573.0,533.9C575.7,534.8 578.3,535.6 581.0,536.4C583.7,537.2 586.3,538.0 589.0,538.7C591.7,539.5 594.3,540.2 597.0,541.0C599.7,541.8 602.3,542.6 605.0,543.4C607.7,544.3 610.3,545.1 613.0,546.0C615.7,546.8 618.3,547.6 621.0,548.4C623.7,549.2 626.3,549.9 629.0,550.7C631.7,551.5 634.3,552.2 637.0,553.1C639.7,553.9 642.3,554.7 645.0,555.6C647.7,556.4 650.3,557.3 653.0,558.1C655.7,558.8 658.3,559.6 661.0,560.3C663.7,561.0 666.3,561.7 669.0,562.4C671.7,563.1 674.3,563.7 677.0,564.3C679.7,565.0 682.3,565.7 685.0,566.5C687.7,567.2 690.3,568.0 693.0,568.7C695.7,569.4 698.3,570.1 701.0,570.7C703.7,571.4 706.3,572.0 709.0,572.6C711.7,573.2 714.3,573.6 717.0,574.2C719.7,574.9 722.3,575.6 725.0,576.4C727.7,577.2 730.3,578.1 733.0,579.0C735.7,579.8 738.3,580.7 741.0,581.5C743.7,582.4 746.3,583.2 749.0,584.0C751.7,584.9 754.3,585.6 757.0,586.4C759.7,587.2 762.3,588.0 765.0,588.8C767.7,589.5 770.3,590.3 773.0,591.0C775.7,591.8 778.3,592.5 781.0,593.2C783.7,593.9 786.3,594.6 789.0,595.3C791.7,596.0 794.3,596.7 797.0,597.4C799.7,598.1 802.3,598.8 805.0,599.6C807.7,600.3 810.3,601.0 813.0,601.7C815.7,602.4 818.3,603.1 821.0,603.8C823.7,604.5 826.3,605.1 829.0,605.8C831.7,606.5 834.3,607.2 837.0,608.0C839.7,608.7 842.3,609.6 845.0,610.5C847.7,611.4 850.3,612.3 853.0,613.3C855.7,614.2 858.3,615.3 861.0,616.3C863.7,617.2 866.3,618.1 869.0,618.9C871.7,619.8 874.3,620.5 877.0,621.3C879.7,622.1 882.3,622.8 885.0,623.6C887.7,624.3 890.3,625.1 893.0,625.8C895.7,626.6 898.3,627.4 901.0,628.1C903.7,628.9 906.3,629.7 909.0,630.5C911.7,631.3 914.3,632.1 917.0,632.9C919.7,633.7 922.3,634.5 925.0,635.4C927.7,636.2 930.3,637.1 933.0,638.0C935.7,638.9 938.3,639.7 941.0,640.6C943.7,641.5 946.3,642.4 949.0,643.4C951.7,644.3 954.3,645.3 957.0,646.3C959.7,647.3 962.3,648.3 965.0,649.4C967.7,650.5 970.3,651.7 973.0,652.8C975.7,653.9 978.3,654.9 981.0,655.9C983.7,656.8 986.3,657.7 989.0,658.6C991.7,659.5 994.3,660.4 997.0,661.4C999.7,662.3 1002.3,663.3 1005.0,664.3C1007.7,665.3 1010.3,666.3 1013.0,667.2C1015.7,668.2 1018.3,669.2 1021.0,670.2C1023.7,671.2 1026.3,672.1 1029.0,673.2C1031.7,674.2 1034.3,675.3 1037.0,676.3C1039.7,677.4 1042.3,678.5 1045.0,679.5C1047.7,680.6 1050.3,681.7 1053.0,682.8C1055.7,683.8 1058.3,684.9 1061.0,685.8C1063.7,686.7 1066.3,687.6 1069.0,688.4C1071.7,689.2 1074.3,690.1 1077.0,690.9C1079.7,691.7 1082.3,692.4 1085.0,693.2C1087.7,694.0 1090.3,694.8 1093.0,695.6C1095.7,696.4 1098.3,697.2 1101.0,698.0C1103.7,698.8 1106.3,699.6 1109.0,700.3C1111.7,701.1 1114.3,701.8 1117.0,702.5C1119.7,703.2 1122.3,703.9 1125.0,704.6C1127.7,705.3 1130.3,706.1 1133.0,706.9C1135.7,707.7 1138.3,708.6 1141.0,709.5C1143.7,710.3 1146.3,711.2 1149.0,712.2C1151.7,713.2 1154.3,714.2 1157.0,715.3C1159.7,716.3 1162.3,717.4 1165.0,718.6C1167.7,719.7 1170.3,720.9 1173.0,722.1C1175.7,723.3 1178.3,724.5 1181.0,725.8C1183.7,727.1 1186.3,728.4 1189.0,729.8C1191.7,731.1 1194.3,732.5 1197.0,733.8C1199.7,735.2 1202.3,736.6 1205.0,738.0C1207.7,739.3 1210.3,740.7 1213.0,742.2C1215.7,743.6 1218.3,745.1 1221.0,746.6C1223.7,748.1 1226.3,749.6 1229.0,751.2C1231.7,752.8 1234.3,754.4 1237.0,756.1C1239.7,757.8 1242.3,759.6 1245.0,761.6C1247.7,763.6 1249.6,765.9 1252.9,768.1C1256.2,770.3 1262.9,773.8 1264.9,775.0L1270.2,771.7L1277.4,765.1L1279.4,769.7L1282.1,781.0C1283.9,782.6 1289.6,787.9 1292.7,790.5C1295.8,793.1 1298.0,794.8 1300.7,796.7C1303.4,798.6 1306.0,800.2 1308.7,801.9C1311.4,803.7 1314.0,805.3 1316.7,807.0C1319.4,808.6 1322.0,810.3 1324.7,811.9C1327.4,813.6 1330.0,815.2 1332.7,816.7C1335.4,818.3 1338.0,819.8 1340.7,821.3C1343.4,822.9 1346.0,824.4 1348.7,825.8C1351.4,827.3 1354.0,828.7 1356.7,830.1C1359.4,831.5 1362.0,832.8 1364.7,834.2C1367.4,835.5 1370.0,836.8 1372.7,838.0C1375.4,839.2 1378.0,840.3 1380.7,841.4C1383.4,842.4 1386.0,843.4 1388.7,844.3C1391.4,845.2 1394.0,846.0 1396.7,846.8C1399.4,847.6 1402.0,848.3 1404.7,849.0C1407.4,849.7 1410.0,850.4 1412.7,850.9C1415.4,851.5 1418.0,851.9 1420.7,852.3C1423.4,852.7 1426.0,852.9 1428.7,853.2C1431.4,853.4 1434.0,853.5 1436.7,853.8C1439.4,854.0 1442.0,854.3 1444.7,854.6C1447.4,854.8 1450.0,855.1 1452.7,855.3C1455.4,855.5 1458.0,855.6 1460.7,855.7C1463.4,855.8 1466.0,855.7 1468.7,855.8C1471.4,855.8 1474.0,855.9 1476.7,856.0C1479.4,856.2 1482.0,856.5 1484.7,856.7C1487.4,856.9 1490.0,857.1 1492.7,857.2C1495.4,857.4 1498.0,857.6 1500.7,857.6C1503.4,857.7 1506.0,857.7 1508.7,857.7C1511.4,857.7 1514.0,857.7 1516.7,857.7C1519.4,857.7 1522.0,857.7 1524.7,857.8C1527.4,857.8 1530.0,857.8 1532.7,857.8C1535.4,857.9 1538.0,857.9 1540.7,857.8C1543.4,857.8 1546.0,857.7 1548.7,857.6C1551.4,857.6 1554.0,857.5 1556.7,857.4C1559.4,857.4 1562.0,857.3 1564.7,857.2C1567.4,857.2 1570.0,857.1 1572.7,857.1C1575.4,857.1 1578.0,857.1 1580.7,857.2C1583.4,857.3 1586.0,857.4 1588.7,857.6C1591.4,857.8 1594.0,858.0 1596.7,858.2C1599.4,858.4 1602.0,858.6 1604.7,858.6C1607.4,858.7 1610.0,858.6 1612.7,858.5C1615.4,858.5 1618.0,858.4 1620.7,858.4C1623.4,858.4 1626.0,858.3 1628.7,858.4C1631.4,858.4 1634.0,858.6 1636.7,858.7C1639.4,858.8 1642.0,859.0 1644.7,859.1C1647.4,859.3 1650.0,859.4 1652.7,859.4C1655.4,859.5 1658.0,859.6 1660.7,859.7C1663.4,859.8 1666.0,859.8 1668.7,860.0C1671.4,860.1 1674.0,860.3 1676.7,860.4C1679.4,860.6 1682.0,860.9 1684.7,861.1C1687.4,861.4 1690.0,861.7 1692.7,861.9C1695.4,862.1 1698.0,862.3 1700.7,862.5C1703.4,862.6 1706.0,862.8 1708.7,863.0C1711.4,863.2 1714.0,863.3 1716.7,863.5C1719.4,863.8 1722.0,864.1 1724.7,864.4C1727.4,864.7 1730.0,865.0 1732.7,865.2C1735.4,865.4 1738.0,865.6 1740.7,865.8C1743.4,866.0 1746.0,866.1 1748.7,866.2C1751.4,866.3 1754.0,866.3 1756.7,866.4C1759.4,866.5 1762.0,866.7 1764.7,866.9C1767.4,867.1 1770.0,867.3 1772.7,867.5C1775.4,867.8 1778.0,868.0 1780.7,868.4C1783.4,868.7 1786.0,869.2 1788.7,869.5C1791.4,869.8 1794.0,870.0 1796.7,870.1C1799.4,870.3 1802.0,870.5 1804.7,870.6C1807.4,870.8 1810.0,870.9 1812.7,870.9C1815.4,871.0 1818.0,870.9 1820.7,871.0C1823.4,871.0 1826.0,871.0 1828.7,871.0C1831.4,871.0 1834.0,871.0 1836.7,871.1C1839.4,871.1 1842.0,871.0 1844.7,871.0C1847.4,871.0 1850.0,871.0 1852.7,870.9C1855.4,870.9 1858.0,870.9 1860.7,870.9C1863.4,870.8 1866.0,870.8 1868.7,870.8C1871.4,870.7 1874.0,870.6 1876.7,870.5C1879.4,870.3 1882.0,870.2 1884.7,869.9C1887.4,869.7 1890.0,869.4 1892.7,869.1C1895.4,868.8 1898.0,868.4 1900.7,867.9C1903.4,867.5 1906.0,867.0 1908.7,866.5C1911.4,865.9 1914.0,865.3 1916.7,864.7C1919.4,864.0 1922.0,863.2 1924.7,862.4C1927.4,861.7 1930.0,861.0 1932.7,860.2C1935.4,859.5 1938.0,858.8 1940.7,858.1C1943.4,857.3 1946.0,856.5 1948.7,855.7C1951.4,854.8 1954.0,853.9 1956.7,852.9C1959.4,852.0 1962.0,851.0 1964.7,850.1C1967.4,849.2 1970.0,848.4 1972.7,847.6C1975.4,846.7 1978.0,846.0 1980.7,845.2C1983.4,844.4 1986.0,843.7 1988.7,843.0C1991.4,842.3 1994.0,841.5 1996.7,840.8C1999.4,840.1 2002.0,839.4 2004.7,838.7C2007.4,838.0 2010.0,837.3 2012.7,836.7C2015.4,836.0 2018.0,835.3 2020.7,834.7C2023.4,834.0 2026.5,833.3 2028.7,832.8C2030.9,832.2 2033.1,831.7 2034.0,831.5"/>
</g>
<g fill="none" stroke-width="3.5" stroke-linecap="butt">
<line x1="1157.4" y1="714.5" x2="1263" y2="610.5" stroke="#008000"/>
<line x1="880.4" y1="782" x2="906" y2="752.5" stroke="#1e32ff"/>
<line x1="1565.5" y1="940.2" x2="1753" y2="785" stroke="#ff66ff"/>
<line x1="1084" y1="1018.5" x2="1142" y2="990.7" stroke="#000"/>
</g>
<g stroke="#000" stroke-width="5" fill="none" stroke-linecap="square">
<rect x="303.5" y="34.0" width="1728.2" height="1275.5"/>
</g>
<g stroke="#000" stroke-width="5" fill="none">
<line x1="278.0" y1="34.0" x2="303.5" y2="34.0"/>
<line x1="278.0" y1="246.6" x2="303.5" y2="246.6"/>
<line x1="278.0" y1="459.1" x2="303.5" y2="459.1"/>
<line x1="278.0" y1="671.7" x2="303.5" y2="671.7"/>
<line x1="278.0" y1="884.2" x2="303.5" y2="884.2"/>
<line x1="278.0" y1="1096.8" x2="303.5" y2="1096.8"/>
<line x1="278.0" y1="1309.3" x2="303.5" y2="1309.3"/>
<line x1="290.0" y1="140.3" x2="303.5" y2="140.3"/>
<line x1="290.0" y1="352.8" x2="303.5" y2="352.8"/>
<line x1="290.0" y1="565.4" x2="303.5" y2="565.4"/>
<line x1="290.0" y1="777.9" x2="303.5" y2="777.9"/>
<line x1="290.0" y1="990.5" x2="303.5" y2="990.5"/>
<line x1="290.0" y1="1203.0" x2="303.5" y2="1203.0"/>
<line x1="761.3" y1="1309.5" x2="761.3" y2="1335.0"/>
<line x1="1269.6" y1="1309.5" x2="1269.6" y2="1335.0"/>
<line x1="1777.9" y1="1309.5" x2="1777.9" y2="1335.0"/>
<line x1="507.1" y1="1309.5" x2="507.1" y2="1322.0"/>
<line x1="1015.4" y1="1309.5" x2="1015.4" y2="1322.0"/>
<line x1="1523.8" y1="1309.5" x2="1523.8" y2="1322.0"/>
<line x1="2031.7" y1="1309.5" x2="2031.7" y2="1322.0"/>
</g>
<text transform="translate(258.3 55.6) scale(1 1.035)" font-size="55" text-anchor="end" xml:space="preserve">−0. 5</text>
<text transform="translate(258.3 268.2) scale(1 1.035)" font-size="55" text-anchor="end" xml:space="preserve">−1. 0</text>
<text transform="translate(258.3 480.7) scale(1 1.035)" font-size="55" text-anchor="end" xml:space="preserve">−1. 5</text>
<text transform="translate(258.3 693.3) scale(1 1.035)" font-size="55" text-anchor="end" xml:space="preserve">−2. 0</text>
<text transform="translate(258.3 905.8) scale(1 1.035)" font-size="55" text-anchor="end" xml:space="preserve">−2. 5</text>
<text transform="translate(258.3 1118.3) scale(1 1.035)" font-size="55" text-anchor="end" xml:space="preserve">−3. 0</text>
<text transform="translate(258.3 1330.9) scale(1 1.035)" font-size="55" text-anchor="end" xml:space="preserve">−3. 5</text>
<text transform="translate(760.4 1399.6) scale(1.0 1.05)" font-size="55" text-anchor="middle">0</text>
<text transform="translate(1269.7 1399.6) scale(1.0 1.05)" font-size="55" text-anchor="middle">100</text>
<text transform="translate(1777.5 1399.6) scale(1.02 1.05)" font-size="55" text-anchor="middle">200</text>
<text transform="translate(1168 1477) scale(0.981 1.025)" font-size="51" text-anchor="middle">Temperature /°C</text>
<text transform="translate(68.9 650.6) rotate(-90) scale(0.985 1.035)" font-size="51" text-anchor="middle">Thermal flow /mW</text>
<text transform="translate(1237 601.8)" font-size="51">360d</text>
<text transform="translate(885 738.8)" font-size="51">30d</text>
<text transform="translate(1730.5 771.6) scale(0.99 1)" font-size="50">180d</text>
<text transform="translate(919 1026.1)" font-size="50">Original</text>
</svg>
</body></html>
